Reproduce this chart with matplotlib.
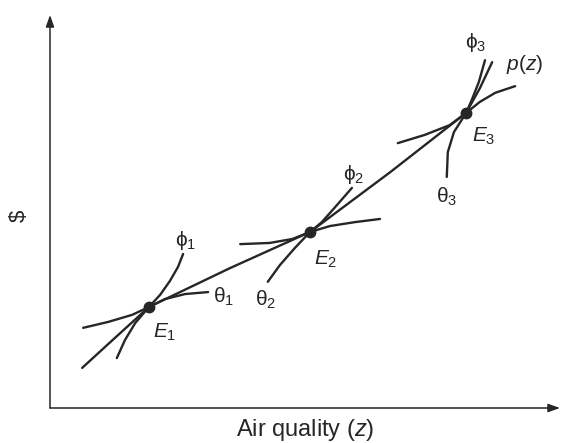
import matplotlib
matplotlib.use("Agg")
import matplotlib.pyplot as plt

plt.rcParams['font.family'] = ['Liberation Sans', 'DejaVu Sans']
plt.rcParams['mathtext.fontset'] = 'custom'
plt.rcParams['mathtext.rm'] = 'Liberation Sans'
plt.rcParams['mathtext.it'] = 'Liberation Sans:italic'
plt.rcParams['mathtext.fallback'] = 'stixsans'

# hedonic price schedule p(z) and the points (z, $)
p_z = [6.3, 12.7, 19.4, 35.3, 51.0, 66.7, 81.6, 84.3, 86.7]
p_v = [10.2, 17.8, 25.7, 35.6, 44.8, 60.0, 75.1, 81.4, 88.0]

# equilibrium points E1..E3
eq_z = [19.4, 51.0, 81.6]
eq_v = [25.7, 44.8, 75.1]

# bid curves (phi)
phi1_z = [6.5, 11.4, 16.1, 19.4, 21.6, 23.5, 25.1, 26.1]
phi1_v = [20.4, 21.9, 23.7, 25.7, 28.8, 32.3, 35.9, 39.2]
phi2_z = [37.3, 43.1, 47.5, 51.0, 53.3, 55.9, 59.2]
phi2_v = [41.7, 42.0, 43.0, 44.8, 47.3, 51.1, 56.0]
phi3_z = [68.2, 73.5, 78.4, 81.6, 82.7, 84.1, 85.3]
phi3_v = [67.4, 69.5, 72.0, 75.1, 78.4, 83.0, 88.5]

# offer curves (theta)
theta1_z = [13.1, 14.7, 16.7, 19.4, 22.5, 26.5, 31.0]
theta1_v = [12.7, 17.3, 21.6, 25.7, 27.7, 29.0, 29.5]
theta2_z = [42.7, 45.1, 48.0, 51.0, 54.9, 59.8, 64.7]
theta2_v = [32.1, 36.4, 40.7, 44.8, 46.3, 47.3, 48.1]
theta3_z = [77.8, 78.0, 79.2, 81.6, 84.3, 87.3, 91.2]
theta3_v = [58.8, 65.1, 70.2, 75.1, 77.9, 80.2, 81.9]

# curve labels and where they sit
labels = [r'$\mathrm{\phi}_1$', r'$\mathrm{\theta}_1$', r'$E_1$',
          r'$\mathrm{\theta}_2$', r'$E_2$', r'$\mathrm{\phi}_2$',
          r'$\mathrm{\theta}_3$', r'$E_3$', r'$\mathrm{\phi}_3$', r'$p(z)$']
label_z = [26.5, 34.1, 22.4, 42.2, 54.1, 59.6, 77.8, 85.1, 83.5, 93.0]
label_v = [42.5, 28.2, 19.3, 27.5, 37.9, 59.3, 53.7, 69.0, 92.9, 87.3]

ink = '#262626'

fig = plt.figure(figsize=(5.63, 4.43), dpi=100)
ax = fig.add_axes([50 / 563, 35 / 443, 510 / 563, 393 / 443])
ax.set_xlim(0, 100)
ax.set_ylim(0, 100)
ax.axis('off')

# axes with arrow heads
arrow = dict(arrowstyle='-|>,head_length=0.7,head_width=0.25', color=ink,
             lw=1.1, shrinkA=0, shrinkB=0)
ax.annotate('', xy=(100, 0), xytext=(0, 0), arrowprops=arrow, annotation_clip=False)
ax.annotate('', xy=(0, 100), xytext=(0, 0), arrowprops=arrow, annotation_clip=False)

curve = dict(color=ink, lw=1.7, solid_capstyle='round', solid_joinstyle='round')
ax.plot(p_z, p_v, **curve)
for zs, vs in [(phi1_z, phi1_v), (phi2_z, phi2_v), (phi3_z, phi3_v),
               (theta1_z, theta1_v), (theta2_z, theta2_v), (theta3_z, theta3_v)]:
    ax.plot(zs, vs, **curve)

ax.plot(eq_z, eq_v, 'o', color=ink, markersize=7.5, zorder=5)

for txt, z, v in zip(labels, label_z, label_v):
    ax.text(z, v, txt, fontsize=15, color=ink, ha='center', va='center')

ax.text(0.5, -0.055, 'Air quality ($z$)', transform=ax.transAxes, fontsize=17,
        color=ink, ha='center', va='center')
ax.text(-0.06, 0.49, '\\$', transform=ax.transAxes, fontsize=16, color=ink,
        rotation=90, ha='center', va='center')

fig.savefig('out.png', dpi=100, facecolor='white')
